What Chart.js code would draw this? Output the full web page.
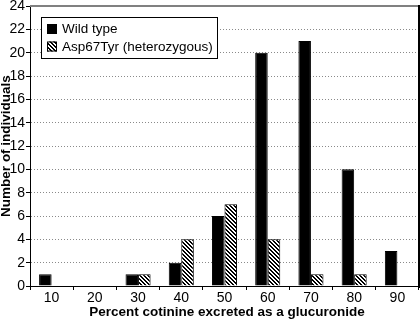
<!DOCTYPE html>
<html>
<head>
<meta charset="utf-8">
<script src="https://cdn.jsdelivr.net/npm/chart.js@4.4.0/dist/chart.umd.min.js"></script>
<style>
  html, body { margin: 0; padding: 0; background: #fff; }
</style>
</head>
<body>
<canvas id="chart" width="420" height="321"></canvas>
<script>
const categories = ['10', '20', '30', '40', '50', '60', '70', '80', '90'];
const wildType = [1, 0, 1, 2, 6, 20, 21, 10, 3];
const asp67Tyr = [0, 0, 1, 4, 7, 4, 1, 1, 0];
const yMin = 0;
const yMax = 24;
const yStep = 2;
const xTitle = 'Percent cotinine excreted as a glucuronide';
const yTitle = 'Number of individuals';

const FONT = '"Liberation Sans", Arial, sans-serif';

function makeHatch() {
  const c = document.createElement('canvas');
  c.width = 4;
  c.height = 4;
  const g = c.getContext('2d');
  g.fillStyle = '#fff';
  g.fillRect(0, 0, 4, 4);
  g.fillStyle = '#000';
  for (let y = 0; y < 4; y++) {
    for (let x = 0; x < 4; x++) {
      if ((((x - y) % 4) + 4) % 4 < 2) g.fillRect(x, y, 1, 1);
    }
  }
  return g.createPattern(c, 'repeat');
}

// top grey line, right black line, axis titles, boxed legend inside the plot
const framePlugin = {
  id: 'frame',
  afterDraw(chart) {
    const { ctx, chartArea } = chart;
    ctx.save();
    ctx.strokeStyle = '#808080';
    ctx.lineWidth = 2;
    ctx.beginPath();
    ctx.moveTo(chartArea.left, chartArea.top);
    ctx.lineTo(chartArea.right, chartArea.top);
    ctx.stroke();
    ctx.strokeStyle = '#000';
    ctx.beginPath();
    ctx.moveTo(chartArea.right, chartArea.top - 1);
    ctx.lineTo(chartArea.right, chartArea.bottom + 2);
    ctx.stroke();

    // axis titles
    ctx.fillStyle = '#000';
    ctx.textAlign = 'center';
    ctx.textBaseline = 'middle';
    ctx.font = 'bold 13.5px ' + FONT;
    ctx.fillText(xTitle, (chartArea.left + chartArea.right) / 2 + 2.5, 312);
    ctx.save();
    ctx.translate(6, (chartArea.top + chartArea.bottom) / 2);
    ctx.rotate(-Math.PI / 2);
    ctx.fillText(yTitle, 0, 0);
    ctx.restore();

    // legend
    ctx.textAlign = 'left';
    ctx.fillStyle = '#fff';
    ctx.fillRect(41.5, 17.5, 176, 41);
    ctx.strokeStyle = '#000';
    ctx.lineWidth = 1;
    ctx.strokeRect(41.5, 17.5, 176, 41);
    ctx.font = '13.5px ' + FONT;
    chart.data.datasets.forEach((ds, i) => {
      const y = 24 + i * 17.5;
      ctx.fillStyle = ds.backgroundColor;
      ctx.fillRect(47, y, 10, 10);
      ctx.strokeStyle = '#000';
      ctx.strokeRect(47.5, y + 0.5, 9, 9);
      ctx.fillStyle = '#000';
      ctx.fillText(ds.label, 62, y + 5.5);
    });
    ctx.restore();
  }
};

new Chart(document.getElementById('chart'), {
  type: 'bar',
  data: {
    labels: categories,
    datasets: [
      {
        label: 'Wild type',
        data: wildType,
        backgroundColor: '#000',
        borderColor: '#000',
        borderWidth: c => (c.raw === 0 ? 0 : 1)
      },
      {
        label: 'Asp67Tyr (heterozygous)',
        data: asp67Tyr,
        backgroundColor: makeHatch(),
        borderColor: '#000',
        borderWidth: c => (c.raw === 0 ? 0 : 1)
      }
    ]
  },
  options: {
    responsive: false,
    animation: false,
    layout: { padding: { top: 6, right: 1, left: 0, bottom: 0 } },
    datasets: { bar: { categoryPercentage: 0.58, barPercentage: 1 } },
    plugins: {
      legend: { display: false },
      tooltip: { enabled: false }
    },
    scales: {
      x: {
        offset: true,
        grid: {
          offset: true,
          drawOnChartArea: false,
          drawTicks: true,
          tickLength: 4,
          tickColor: '#000'
        },
        border: { display: true, color: '#000', width: 1 },
        ticks: {
          color: '#000',
          font: { family: FONT, size: 14, lineHeight: 1 },
          padding: 1,
          maxRotation: 0
        },
        afterFit(scale) { scale.height = 35; }
      },
      y: {
        min: yMin,
        max: yMax,
        ticks: {
          stepSize: yStep,
          color: '#000',
          font: { family: FONT, size: 14, lineHeight: 0.7 },
          padding: 1
        },
        grid: {
          color: '#8a8a8a',
          drawTicks: true,
          tickLength: 4,
          tickColor: '#000',
          tickBorderDash: []
        },
        border: { display: true, color: '#000', width: 1, dash: [1, 2] },
        afterFit(scale) { scale.width = 30; }
      }
    }
  },
  plugins: [framePlugin]
});
</script>
</body>
</html>
